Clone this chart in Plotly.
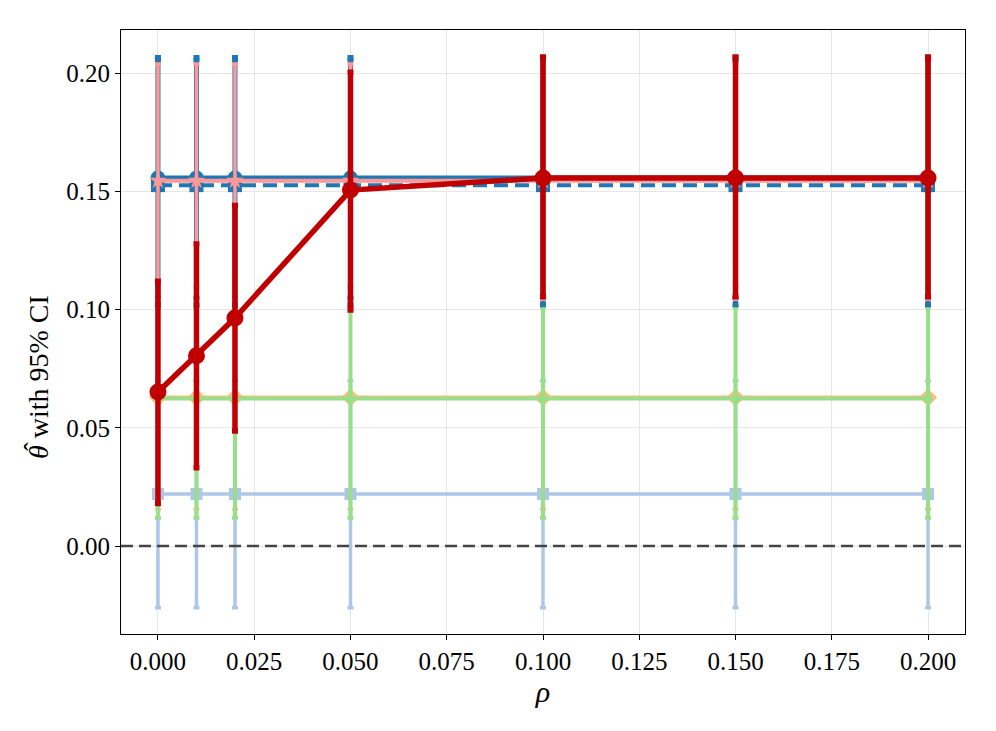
import plotly.graph_objects as go

rho = [0.0, 0.01, 0.02, 0.05, 0.10, 0.15, 0.20]

# series: estimate, lower CI, upper CI
blue_sq_est = [0.1526, 0.1526, 0.1526, 0.1526, 0.1526, 0.1526, 0.1526]
blue_sq_lo = [0.1050, 0.1050, 0.1050, 0.1050, 0.1050, 0.1050, 0.1050]
blue_sq_hi = [0.2055, 0.2055, 0.2055, 0.2055, 0.2055, 0.2055, 0.2055]

blue_ci_est = [0.1556, 0.1556, 0.1556, 0.1556, 0.1556, 0.1556, 0.1556]
blue_ci_lo = [0.1020, 0.1020, 0.1020, 0.1020, 0.1020, 0.1020, 0.1020]
blue_ci_hi = [0.2066, 0.2066, 0.2066, 0.2066, 0.2066, 0.2066, 0.2066]

pink_est = [0.1545, 0.1545, 0.1545, 0.1545, 0.1545, 0.1545, 0.1545]
pink_lo = [0.1043, 0.1043, 0.1043, 0.1043, 0.1043, 0.1043, 0.1043]
pink_hi = [0.2038, 0.2038, 0.2038, 0.2038, 0.2038, 0.2038, 0.2038]

lblue_est = [0.0220, 0.0220, 0.0220, 0.0220, 0.0220, 0.0220, 0.0220]
lblue_lo = [-0.0261, -0.0261, -0.0261, -0.0261, -0.0261, -0.0261, -0.0261]
lblue_hi = [0.0699, 0.0699, 0.0699, 0.0699, 0.0699, 0.0699, 0.0699]

orange_est = [0.0628, 0.0628, 0.0628, 0.0628, 0.0628, 0.0628, 0.0628]
orange_lo = [0.0156, 0.0156, 0.0156, 0.0156, 0.0156, 0.0156, 0.0156]
orange_hi = [0.1095, 0.1095, 0.1095, 0.1095, 0.1095, 0.1095, 0.1095]

green_est = [0.0624, 0.0624, 0.0624, 0.0624, 0.0624, 0.0624, 0.0624]
green_lo = [0.0120, 0.0120, 0.0120, 0.0120, 0.0120, 0.0120, 0.0120]
green_hi = [0.1012, 0.1012, 0.1012, 0.1012, 0.1012, 0.1012, 0.1012]

red_est = [0.0651, 0.0805, 0.0964, 0.1505, 0.1556, 0.1556, 0.1556]
red_lo = [0.0180, 0.0331, 0.0486, 0.0998, 0.1054, 0.1054, 0.1054]
red_hi = [0.1120, 0.1277, 0.1440, 0.2003, 0.2068, 0.2068, 0.2068]

x_ticks = [0.0, 0.025, 0.05, 0.075, 0.10, 0.125, 0.15, 0.175, 0.20]
y_ticks = [0.0, 0.05, 0.10, 0.15, 0.20]

FONT = "Liberation Serif"

fig = go.Figure()


def add_series(est, lo, hi, color, symbol, msize, lw, ew, dash="solid"):
    fig.add_trace(go.Scatter(
        x=rho, y=est, mode="lines+markers",
        line=dict(color=color, width=lw, dash=dash),
        marker=dict(color=color, symbol=symbol, size=msize, line=dict(width=0)),
        error_y=dict(type="data", symmetric=False,
                     array=[h - e for h, e in zip(hi, est)],
                     arrayminus=[e - l for e, l in zip(est, lo)],
                     color=color, thickness=ew, width=3),
        showlegend=False, hoverinfo="skip",
    ))


add_series(lblue_est, lblue_lo, lblue_hi, "#aec7e8", "square", 12, 3.5, 3.5)
add_series(orange_est, orange_lo, orange_hi, "#ffbb78", "diamond", 14, 4, 3)
add_series(green_est, green_lo, green_hi, "#98df8a", "circle", 9, 4, 4)
add_series(blue_sq_est, blue_sq_lo, blue_sq_hi, "#1f77b4", "square", 14, 4, 4, dash="14px,7px")
add_series(blue_ci_est, blue_ci_lo, blue_ci_hi, "#1f77b4", "circle", 15, 5, 5)
add_series(pink_est, pink_lo, pink_hi, "#ff9896", "star", 13, 4, 3.5)
add_series(red_est, red_lo, red_hi, "#c00000", "circle", 17, 5.5, 5.5)

fig.add_shape(type="line", xref="paper", yref="y", x0=0, x1=1, y0=0, y1=0,
              line=dict(color="#444444", width=2.5, dash="12px,6px"))

axis_common = dict(
    showline=True, linecolor="black", linewidth=1.2, mirror=True,
    showgrid=True, gridcolor="#e6e6e6", gridwidth=1,
    ticks="outside", ticklen=5, tickcolor="black", tickwidth=1,
    zeroline=False,
    tickfont=dict(family=FONT, size=25, color="black"),
)

fig.update_xaxes(range=[-0.0096, 0.2096], tickvals=x_ticks,
                 ticktext=[f"{v:.3f}" for v in x_ticks],
                 title=dict(text="<i>ρ</i>", font=dict(family=FONT, size=30, color="black"), standoff=0),
                 **axis_common)
fig.update_yaxes(range=[-0.0372, 0.2182], tickvals=y_ticks,
                 ticktext=[f"{v:.2f}" for v in y_ticks],
                 **axis_common)

# y-axis title drawn as rotated annotations (theta with a hat)
fig.add_annotation(text="<i>θ</i> with 95% CI", xref="paper", yref="paper",
                   x=0, y=0.5, xanchor="center", yanchor="middle",
                   xshift=-83, yshift=-45, showarrow=False,
                   textangle=-90, font=dict(family=FONT, size=28, color="black"))
fig.add_annotation(text="ˆ", xref="paper", yref="paper",
                   x=0, y=0.5, xanchor="center", yanchor="middle",
                   xshift=-88, yshift=-115, showarrow=False,
                   textangle=-90, font=dict(family=FONT, size=26, color="black"))

fig.update_layout(
    width=996, height=731,
    margin=dict(l=113, r=39, t=22, b=105),
    paper_bgcolor="white", plot_bgcolor="white",
    showlegend=False,
)

fig.write_html("out.html")
